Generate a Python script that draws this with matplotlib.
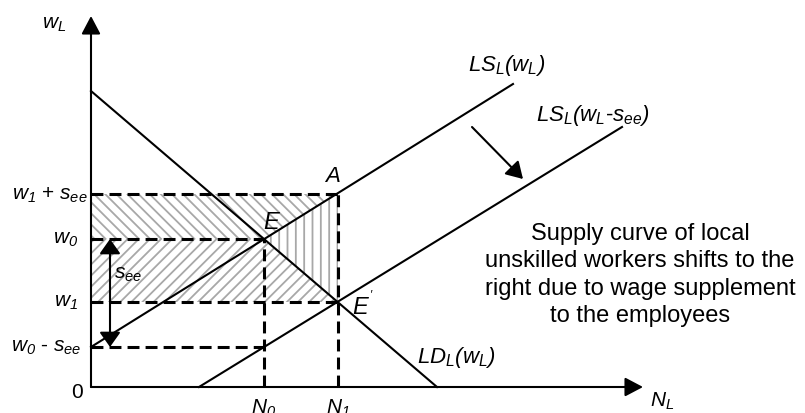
import matplotlib
matplotlib.use("Agg")
import matplotlib.pyplot as plt

plt.rcParams['font.family'] = ['Liberation Sans', 'DejaVu Sans']
plt.rcParams['mathtext.fontset'] = 'custom'
plt.rcParams['mathtext.rm'] = 'Liberation Sans:italic'
plt.rcParams['mathtext.it'] = 'Liberation Sans:italic'
plt.rcParams['mathtext.bf'] = 'Liberation Sans:bold'
plt.rcParams['hatch.linewidth'] = 1.3
plt.rcParams['hatch.color'] = '#a8a8a8'

# ---- data (model values) ----
LD_N = [0, 346]
LD_w = [296, 0]
LS_N = [0, 422]
LS_w = [40, 303]
LS2_N = [108, 531]
LS2_w = [0, 260]
N0, N1 = 173, 247
w0, w1 = 148, 85
s_ee = 108
w1_plus = w1 + s_ee      # w1 + s_ee
w0_minus = w0 - s_ee     # w0 - s_ee
N_axis_max = 552
w_axis_max = 371

fig = plt.figure(figsize=(8.05, 4.14), dpi=100)
ax = fig.add_axes([0, 0, 1, 1])
ax.set_xlim(-91, 714)
ax.set_ylim(-26, 388)
ax.axis('off')

hc = '#a8a8a8'
# hatched regions
ax.fill([0, 0, N1, N0], [w0, w1_plus, w1_plus, w0], facecolor='none',
        hatch='\\\\\\', edgecolor=hc, linewidth=0)
ax.fill([0, 0, N0, N1], [w1, w0, w0, w1], facecolor='none',
        hatch='///', edgecolor=hc, linewidth=0)
ax.fill([N0, N1, N1], [w0, w1_plus, w1], facecolor='none',
        hatch='||', edgecolor=hc, linewidth=0)

# curves
lw = 1.5
ax.plot(LD_N, LD_w, color='k', lw=lw)
ax.plot(LS_N, LS_w, color='k', lw=lw)
ax.plot(LS2_N, LS2_w, color='k', lw=lw)

# dashed guides
dash = dict(color='k', lw=2.2, linestyle=(0, (3.9, 2.0)))
ax.plot([0, N1], [w1_plus, w1_plus], **dash)
ax.plot([0, N0], [w0, w0], **dash)
ax.plot([0, N1], [w1, w1], **dash)
ax.plot([0, N0], [w0_minus, w0_minus], **dash)
ax.plot([N0, N0], [0, w0], **dash)
ax.plot([N1, N1], [0, w1_plus], **dash)

# axes with arrows
ap = dict(arrowstyle='-|>,head_length=0.55,head_width=0.29', lw=1.5, color='k',
          shrinkA=0, shrinkB=0, mutation_scale=20)
ax.annotate('', xy=(0, w_axis_max), xytext=(0, 0), arrowprops=ap)
ax.annotate('', xy=(N_axis_max, 0), xytext=(0, 0), arrowprops=ap)

# s_ee double arrow
ax.annotate('', xy=(19, w0), xytext=(19, w0_minus),
            arrowprops=dict(arrowstyle='<|-|>,head_length=0.45,head_width=0.32', lw=1.5,
                            color='k', shrinkA=0, shrinkB=0, mutation_scale=20))
# shift arrow
ax.annotate('', xy=(432, 208), xytext=(381, 260),
            arrowprops=dict(arrowstyle='-|>,head_length=0.5,head_width=0.3', lw=1.5,
                            color='k', shrinkA=0, shrinkB=0, mutation_scale=20))

fs = 15
ax.text(-37, 363, r'$w_L$', fontsize=fs, ha='center', va='center')
ax.text(-14, -5, '0', fontsize=fs, ha='center', va='center')
ax.text(N0, -26, r'$N_0$', fontsize=fs, ha='center', va='baseline')
ax.text(N1, -26, r'$N_1$', fontsize=fs, ha='center', va='baseline')
ax.text(571, -19, r'$N_L$', fontsize=fs, ha='center', va='baseline')

ax.text(-3, w1_plus, r'$w_1$ + $s_{ee}$', fontsize=fs, ha='right', va='center')
ax.text(-13, w0, r'$w_0$', fontsize=fs, ha='right', va='center')
ax.text(-13, w1, r'$w_1$', fontsize=fs, ha='right', va='center')
ax.text(-10, w0_minus, r'$w_0$ - $s_{ee}$', fontsize=fs, ha='right', va='center')
ax.text(37, 113, r'$s_{ee}$', fontsize=fs, ha='center', va='center')

ax.text(181, 165, r'$E$', fontsize=17, ha='center', va='center')
ax.text(241, 212, r'$A$', fontsize=16, ha='center', va='center')
ax.text(272, 82, r"$E^{'}$", fontsize=17, ha='center', va='center')

ax.text(416, 323, r'$LS_L(w_L)$', fontsize=16, ha='center', va='center')
ax.text(502, 273, r'$LS_L(w_L$-$s_{ee})$', fontsize=16, ha='center', va='center')
ax.text(365, 30, r'$LD_L(w_L)$', fontsize=16, ha='center', va='center')

ax.text(549, 113, 'Supply curve of local\nunskilled workers shifts to the\n'
        'right due to wage supplement\nto the employees',
        fontsize=17, ha='center', va='center', multialignment='center', linespacing=1.3)

fig.savefig('out.png', dpi=100)
